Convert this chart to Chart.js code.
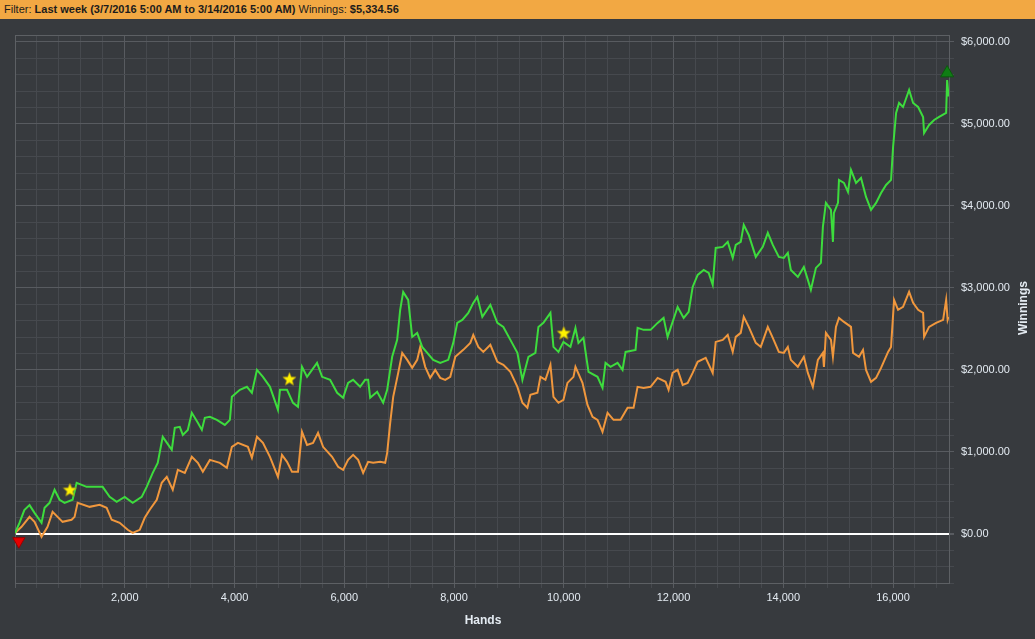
<!DOCTYPE html>
<html>
<head>
<meta charset="utf-8">
<script src="https://cdn.jsdelivr.net/npm/chart.js@4.4.1/dist/chart.umd.min.js"></script>
<style>
  html, body { margin: 0; padding: 0; background: #373a3e; overflow: hidden; }
  #bar {
    position: absolute; left: 0; top: 0; width: 1035px; height: 19px; z-index: 2;
    background: #f2a843; color: #1c1c1c; box-sizing: border-box; padding-left: 4px;
    font: 11px 'Liberation Sans', sans-serif; line-height: 19px; white-space: nowrap;
  }
  #wrap { position: absolute; left: 0; top: 0; width: 1035px; height: 639px; }
</style>
</head>
<body>
<div id="bar">Filter: <b>Last week (3/7/2016 5:00 AM to 3/14/2016 5:00 AM)</b> Winnings: <b>$5,334.56</b></div>
<div id="wrap"><canvas id="chart"></canvas></div>
<script>
// winnings (green)
const greenHands = [0, 80, 170, 265, 356, 484, 539, 630, 721, 812, 904, 1050, 1123, 1305, 1488, 1597, 1725, 1853, 1999, 2145,
  2309, 2400, 2510, 2601, 2692, 2857, 2912, 3003, 3058, 3149, 3222, 3332, 3405, 3459, 3551, 3678, 3824, 3916, 3952, 4098,
  4226, 4317, 4409, 4518, 4646, 4792, 4829, 4957, 5066, 5157, 5230, 5322, 5504, 5596, 5742, 5870, 5979, 6070, 6161, 6289,
  6380, 6435, 6472, 6599, 6709, 6782, 6873, 6964, 7019, 7074, 7165, 7238, 7329, 7420, 7512, 7621, 7749, 7895, 7986, 8059,
  8151, 8260, 8351, 8424, 8516, 8662, 8790, 8899, 9027, 9155, 9246, 9356, 9483, 9538, 9629, 9757, 9812, 9903, 9994, 10122,
  10213, 10268, 10359, 10451, 10615, 10706, 10761, 10852, 10980, 11071, 11126, 11308, 11345, 11454, 11582, 11710, 11819, 11892, 11947, 12075,
  12185, 12276, 12349, 12440, 12550, 12641, 12714, 12769, 12897, 12988, 13079, 13134, 13225, 13280, 13371, 13499, 13627, 13718, 13809, 13919,
  14010, 14083, 14138, 14266, 14375, 14448, 14503, 14595, 14686, 14722, 14777, 14869, 14905, 14923, 14997, 15015, 15106, 15179, 15234, 15326,
  15417, 15508, 15599, 15691, 15782, 15873, 15964, 16001, 16056, 16110, 16183, 16293, 16366, 16457, 16548, 16566, 16657, 16749, 16840, 16968,
  16986, 17012];
const greenWinnings = [10, 130, 290, 350, 256, 134, 317, 378, 537, 415, 378, 415, 622, 573, 573, 573, 451, 390, 451, 378,
  451, 573, 744, 866, 1183, 1024, 1293, 1305, 1207, 1268, 1476, 1354, 1268, 1415, 1427, 1390, 1329, 1390, 1671, 1756,
  1793, 1720, 2000, 1915, 1793, 1512, 1756, 1756, 1598, 1549, 2037, 1915, 2085, 1915, 1878, 1720, 1659, 1841, 1878, 1793,
  1878, 1878, 1659, 1732, 1598, 1756, 2159, 2366, 2732, 2951, 2854, 2402, 2451, 2280, 2207, 2122, 2085, 2122, 2329, 2573,
  2610, 2695, 2817, 2890, 2646, 2793, 2573, 2524, 2366, 2207, 1878, 2159, 2207, 2524, 2573, 2695, 2280, 2219, 2341, 2280,
  2512, 2329, 2390, 1976, 1915, 1780, 2085, 2037, 2085, 2000, 2219, 2244, 2512, 2488, 2488, 2573, 2634, 2402, 2512, 2768,
  2634, 2707, 3012, 3158, 3219, 3183, 3037, 3488, 3500, 3561, 3366, 3524, 3561, 3768, 3646, 3378, 3500, 3671, 3524, 3378,
  3366, 3427, 3219, 3134, 3256, 3098, 2976, 3244, 3305, 3744, 4037, 3951, 3561, 3915, 4037, 4317, 4280, 4171, 4439, 4280,
  4341, 4110, 3951, 4037, 4158, 4256, 4317, 4719, 5134, 5256, 5207, 5414, 5256, 5207, 5085, 4890, 4988, 5049, 5085, 5134,
  5536, 5335];

// second line (orange)
const orangeHands = [0, 119, 265, 356, 484, 593, 685, 776, 867, 1031, 1086, 1141, 1360, 1543, 1670, 1762, 1908, 2054, 2145, 2273,
  2364, 2455, 2583, 2674, 2766, 2875, 2967, 3094, 3222, 3332, 3423, 3551, 3733, 3861, 3952, 4062, 4244, 4317, 4409, 4518,
  4646, 4792, 4865, 4957, 5048, 5157, 5230, 5322, 5431, 5522, 5614, 5778, 5888, 5979, 6070, 6161, 6253, 6344, 6435, 6527,
  6655, 6746, 6782, 6837, 6892, 6983, 7056, 7147, 7238, 7329, 7384, 7475, 7566, 7658, 7749, 7840, 7932, 8023, 8169, 8297,
  8351, 8443, 8534, 8662, 8790, 8899, 9027, 9155, 9246, 9337, 9392, 9520, 9575, 9666, 9757, 9812, 9903, 9994, 10067, 10177,
  10213, 10341, 10432, 10524, 10615, 10706, 10798, 10907, 11035, 11163, 11272, 11345, 11454, 11582, 11710, 11856, 11910, 11983, 12075, 12167,
  12258, 12349, 12440, 12586, 12714, 12769, 12897, 12988, 13079, 13134, 13225, 13280, 13371, 13499, 13590, 13718, 13809, 13919, 14010, 14083,
  14138, 14266, 14375, 14448, 14539, 14631, 14722, 14741, 14777, 14869, 14905, 14960, 15015, 15106, 15234, 15271, 15380, 15453, 15508, 15599,
  15691, 15782, 15910, 15964, 16019, 16092, 16183, 16293, 16366, 16457, 16548, 16566, 16657, 16785, 16913, 16968, 16995, 17012];
const orangeWinnings = [10, 85, 207, 146, -37, 85, 268, 207, 146, 171, 207, 378, 329, 354, 317, 171, 134, 49, 12, 49,
  195, 293, 415, 622, 695, 537, 780, 744, 939, 866, 756, 902, 866, 805, 1061, 1110, 1061, 927, 1183, 1110,
  939, 695, 963, 878, 756, 756, 1244, 1085, 1110, 1232, 1061, 939, 817, 780, 902, 963, 902, 744, 878, 866,
  878, 866, 988, 1354, 1671, 1963, 2207, 2122, 2024, 2122, 2280, 2037, 1902, 2000, 1902, 1878, 1915, 2159, 2244, 2329,
  2427, 2280, 2219, 2305, 2098, 2061, 1976, 1793, 1598, 1537, 1695, 1720, 1915, 1878, 2061, 1671, 1598, 1634, 1841, 1915,
  2037, 1841, 1573, 1427, 1390, 1244, 1476, 1390, 1390, 1537, 1537, 1793, 1780, 1793, 1902, 1854, 1756, 1963, 2000, 1817,
  1841, 1963, 2098, 2146, 1963, 2341, 2366, 2427, 2219, 2402, 2451, 2646, 2524, 2329, 2280, 2524, 2390, 2219, 2207, 2280,
  2122, 2037, 2159, 1963, 1793, 2122, 2207, 2037, 2451, 2366, 2159, 2524, 2634, 2585, 2524, 2207, 2159, 2244, 2000, 1854,
  1902, 2024, 2219, 2280, 2854, 2732, 2768, 2951, 2817, 2732, 2695, 2402, 2524, 2573, 2610, 2854, 2610, 2646];

// milestone stars and min / max markers
const starHands = [1000, 5000, 10000];
const starWinnings = [537, 1890, 2451];
const minMarker = { x: 70, y: -90 };
const maxMarker = { x: 16986, y: 5620 };

const xTitle = 'Hands';
const yTitle = 'Winnings';

const FONT = "'Liberation Sans', sans-serif";
const TEXT = '#e4ebf2';
const GRID_MINOR = '#46494e';
const GRID_MAJOR = '#585b60';

const toPoints = (xs, ys) => xs.map((x, i) => ({ x, y: ys[i] }));

function makeStar(size) {
  const c = document.createElement('canvas');
  c.width = c.height = size;
  const g = c.getContext('2d');
  const cx = size / 2, cy = size / 2 + 0.5, R = size / 2 - 0.5, r = R * 0.45;
  g.beginPath();
  for (let i = 0; i < 10; i++) {
    const a = -Math.PI / 2 + i * Math.PI / 5;
    const rr = i % 2 ? r : R;
    g.lineTo(cx + rr * Math.cos(a), cy + rr * Math.sin(a));
  }
  g.closePath();
  g.fillStyle = '#fff200';
  g.fill();
  g.strokeStyle = '#9c8a1c';
  g.lineWidth = 0.7;
  g.stroke();
  return c;
}

const frameAndTitles = {
  id: 'frameAndTitles',
  beforeDatasetsDraw(chart) {
    const { ctx, chartArea: a } = chart;
    ctx.save();
    ctx.strokeStyle = '#5d6064';
    ctx.lineWidth = 1;
    ctx.strokeRect(a.left + 0.5, a.top + 0.5, a.right - a.left, a.bottom - a.top);
    ctx.restore();
  },
  afterDraw(chart) {
    const { ctx } = chart;
    ctx.save();
    ctx.fillStyle = TEXT;
    ctx.font = 'bold 12px ' + FONT;
    ctx.textAlign = 'center';
    ctx.textBaseline = 'middle';
    ctx.fillText(xTitle, 483, 621);
    ctx.translate(1024, 308);
    ctx.rotate(-Math.PI / 2);
    ctx.fillText(yTitle, 0, 0);
    ctx.restore();
  }
};

new Chart(document.getElementById('chart'), {
  type: 'line',
  data: {
    datasets: [
      { data: toPoints(starHands, starWinnings), showLine: false, pointStyle: makeStar(15), pointRadius: 7.5, order: 0 },
      { data: [maxMarker], showLine: false, pointStyle: 'triangle', pointRadius: 7.5, backgroundColor: '#0f7d14', borderColor: '#0a5a0d', borderWidth: 1, clip: false, order: 0 },
      { data: [minMarker], showLine: false, pointStyle: 'triangle', rotation: 180, pointRadius: 7, backgroundColor: '#e60000', borderColor: '#9a0000', borderWidth: 1, clip: false, order: 0 },
      { data: toPoints(greenHands, greenWinnings), borderColor: '#3ddc3d', borderWidth: 2, pointRadius: 0, tension: 0, order: 1 },
      { data: toPoints(orangeHands, orangeWinnings), borderColor: '#f0973d', borderWidth: 2, pointRadius: 0, tension: 0, order: 2 }
    ]
  },
  options: {
    responsive: true,
    maintainAspectRatio: false,
    animation: false,
    layout: { padding: { left: 15, top: 35, right: 0, bottom: 0 } },
    plugins: { legend: { display: false }, tooltip: { enabled: false } },
    scales: {
      x: {
        type: 'linear',
        position: 'bottom',
        min: 0,
        max: 17020,
        afterFit(scale) { scale.height = 56; },
        border: { color: '#5d6064' },
        grid: {
          color: ctx => ctx.tick.value % 2000 === 0 ? GRID_MAJOR : GRID_MINOR,
          tickColor: ctx => ctx.tick.value % 2000 === 0 ? GRID_MAJOR : GRID_MINOR,
          tickLength: 5
        },
        ticks: {
          stepSize: 400,
          includeBounds: false,
          autoSkip: false,
          maxRotation: 0,
          padding: 3,
          color: TEXT,
          font: { family: FONT, size: 11 },
          callback: v => (v > 0 && v % 2000 === 0) ? v.toLocaleString('en-US') : ''
        }
      },
      y: {
        position: 'right',
        min: -600,
        max: 6085,
        afterFit(scale) { scale.width = 86; },
        border: { color: '#5d6064' },
        grid: {
          color: ctx => ctx.tick.value === 0 ? '#ffffff' : (ctx.tick.value % 1000 === 0 ? GRID_MAJOR : GRID_MINOR),
          lineWidth: ctx => ctx.tick.value === 0 ? 2 : 1,
          tickColor: ctx => ctx.tick.value % 1000 === 0 ? GRID_MAJOR : GRID_MINOR,
          tickLength: 5
        },
        ticks: {
          stepSize: 200,
          includeBounds: false,
          autoSkip: false,
          padding: 7,
          color: TEXT,
          font: { family: FONT, size: 11 },
          callback: v => v % 1000 === 0 ? '$' + v.toLocaleString('en-US', { minimumFractionDigits: 2, maximumFractionDigits: 2 }) : ''
        }
      }
    }
  },
  plugins: [frameAndTitles]
});
</script>
</body>
</html>
